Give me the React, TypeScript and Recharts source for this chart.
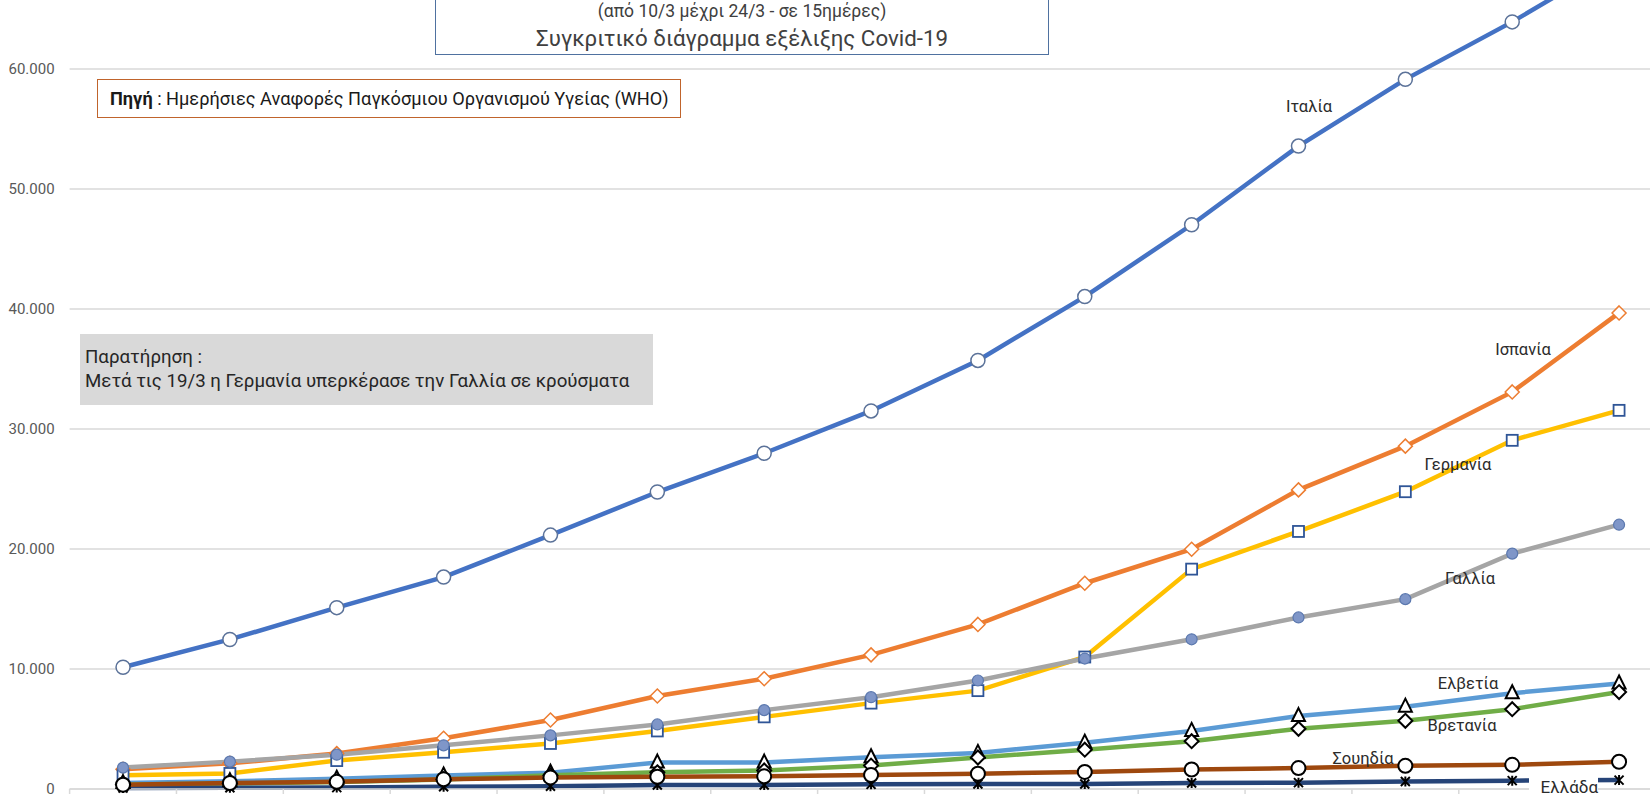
import React from "react";
import { LineChart, Line, XAxis, YAxis, CartesianGrid } from "recharts";

// 15 daily WHO reports, 10/3 .. 24/3
const days = [
  "10/3", "11/3", "12/3", "13/3", "14/3", "15/3", "16/3", "17/3",
  "18/3", "19/3", "20/3", "21/3", "22/3", "23/3", "24/3",
];

const italy = [10149, 12462, 15113, 17660, 21157, 24747, 27980, 31506, 35713, 41035, 47021, 53578, 59138, 63927, 69176];
const spain = [1639, 2140, 2950, 4231, 5753, 7753, 9191, 11178, 13716, 17147, 19980, 24926, 28572, 33089, 39673];
const germany = [1139, 1296, 2369, 3062, 3795, 4838, 6012, 7156, 8198, 10999, 18323, 21463, 24774, 29056, 31554];
const france = [1784, 2281, 2860, 3640, 4469, 5380, 6573, 7652, 9043, 10871, 12475, 14296, 15821, 19615, 22025];
const switzerland = [491, 645, 858, 1125, 1359, 2200, 2200, 2650, 3010, 3863, 4840, 6077, 6863, 7985, 8789];
const uk = [373, 456, 590, 798, 1140, 1391, 1543, 1950, 2626, 3277, 3983, 5018, 5683, 6650, 8077];
const sweden = [355, 500, 599, 814, 961, 1022, 1059, 1167, 1279, 1423, 1623, 1746, 1934, 2016, 2272];
const greece = [89, 99, 117, 190, 228, 331, 331, 387, 418, 418, 495, 530, 624, 695, 743];

const yTicks = [0, 10000, 20000, 30000, 40000, 50000, 60000];
const xTicks = [-0.5, 0.5, 1.5, 2.5, 3.5, 4.5, 5.5, 6.5, 7.5, 8.5, 9.5, 10.5, 11.5, 12.5, 13.5, 14.5];

const rows = days.map((d, i) => ({
  i,
  day: d,
  italy: italy[i],
  spain: spain[i],
  germany: germany[i],
  france: france[i],
  switzerland: switzerland[i],
  uk: uk[i],
  sweden: sweden[i],
  greece: greece[i],
}));

const font = "Roboto, 'Noto Sans', sans-serif";

const fmt = (v: number) => String(v).replace(/\B(?=(\d{3})+(?!\d))/g, ".");

const circleDot = (fill: string, stroke: string, r: number, sw: number) => (p: any) => (
  <circle key={p.index} cx={p.cx} cy={p.cy} r={r} fill={fill} stroke={stroke} strokeWidth={sw} />
);

const diamondDot = (stroke: string, s: number, sw: number) => (p: any) => (
  <path
    key={p.index}
    d={`M${p.cx},${p.cy - s}L${p.cx + s},${p.cy}L${p.cx},${p.cy + s}L${p.cx - s},${p.cy}Z`}
    fill="#fff"
    stroke={stroke}
    strokeWidth={sw}
  />
);

const squareDot = (stroke: string, h: number) => (p: any) => (
  <rect key={p.index} x={p.cx - h} y={p.cy - h} width={h * 2} height={h * 2} fill="#fff" stroke={stroke} strokeWidth={1.8} />
);

const triangleDot = (p: any) => (
  <path
    key={p.index}
    d={`M${p.cx},${p.cy - 8}L${p.cx + 6.5},${p.cy + 5}L${p.cx - 6.5},${p.cy + 5}Z`}
    fill="#fff"
    stroke="#000"
    strokeWidth={2}
  />
);

const starDot = (p: any) => (
  <path
    key={p.index}
    d={`M${p.cx},${p.cy - 5}V${p.cy + 5}M${p.cx - 4.5},${p.cy - 4.5}L${p.cx + 4.5},${p.cy + 4.5}M${p.cx + 4.5},${p.cy - 4.5}L${p.cx - 4.5},${p.cy + 4.5}`}
    stroke="#000"
    strokeWidth={2}
    fill="none"
  />
);

const labelStyle: React.CSSProperties = {
  position: "absolute",
  transform: "translate(-50%, -50%)",
  fontSize: 16.5,
  color: "#2b2b2b",
  whiteSpace: "nowrap",
};

export default function App() {
  return (
    <div
      style={{
        position: "absolute",
        left: 0,
        top: 0,
        width: 1650,
        height: 800,
        overflow: "hidden",
        background: "#fff",
        fontFamily: font,
      }}
    >
      <div style={{ position: "absolute", left: 0, top: -100 }}>
        <LineChart width={1700} height={900} data={rows} margin={{ top: 49, right: 27.5, bottom: 1, left: 0 }}>
          <CartesianGrid vertical={false} stroke="#D9D9D9" strokeWidth={1.5} />
          <XAxis
            dataKey="i"
            type="number"
            domain={[-0.5, 14.5]}
            ticks={xTicks}
            height={10}
            tick={() => <g />}
            tickSize={5}
            axisLine={{ stroke: "#D9D9D9", strokeWidth: 1.5 }}
            tickLine={{ stroke: "#D9D9D9", strokeWidth: 1.5 }}
          />
          <YAxis
            domain={[0, 70000]}
            ticks={yTicks}
            width={69.6}
            axisLine={false}
            tickLine={false}
            tickSize={0}
            tickMargin={15}
            tickFormatter={fmt}
            tick={{ fill: "#595959", fontSize: 15, fontFamily: font }}
          />
          <Line dataKey="italy" stroke="#4472C4" strokeWidth={4.5} isAnimationActive={false} dot={circleDot("#fff", "#5B7299", 7, 1.5)} />
          <Line dataKey="spain" stroke="#ED7D31" strokeWidth={4.5} isAnimationActive={false} dot={diamondDot("#ED7D31", 7, 1.5)} />
          <Line dataKey="germany" stroke="#FFC000" strokeWidth={4.5} isAnimationActive={false} dot={squareDot("#2F5597", 5.5)} />
          <Line dataKey="france" stroke="#A5A5A5" strokeWidth={4.5} isAnimationActive={false} dot={circleDot("#7F96C8", "#5B78AE", 5.5, 1.2)} />
          <Line dataKey="switzerland" stroke="#5B9BD5" strokeWidth={4.5} isAnimationActive={false} dot={triangleDot} />
          <Line dataKey="uk" stroke="#70AD47" strokeWidth={4.5} isAnimationActive={false} dot={diamondDot("#000", 7, 2)} />
          <Line dataKey="greece" stroke="#264478" strokeWidth={4.5} isAnimationActive={false} dot={starDot} />
          <Line dataKey="sweden" stroke="#9E480E" strokeWidth={4.5} isAnimationActive={false} dot={circleDot("#fff", "#000", 7, 2)} />
        </LineChart>
      </div>

      {/* title box, cut off at the top */}
      <div
        style={{
          position: "absolute",
          left: 435,
          top: -30,
          width: 612,
          height: 83,
          border: "1.5px solid #4F71A0",
          background: "#fff",
          color: "#404040",
          textAlign: "center",
        }}
      >
        <div style={{ position: "absolute", left: 0, right: 0, top: 29, fontSize: 17.5, lineHeight: "22px" }}>
          (από 10/3 μέχρι 24/3 - σε 15ημέρες)
        </div>
        <div style={{ position: "absolute", left: 0, right: 0, top: 53, fontSize: 22.3, lineHeight: "28px" }}>
          Συγκριτικό διάγραμμα εξέλιξης Covid-19
        </div>
      </div>

      {/* source box */}
      <div
        style={{
          position: "absolute",
          left: 97,
          top: 79,
          width: 570,
          height: 37,
          border: "1.5px solid #C0642C",
          background: "#fff",
          paddingLeft: 12,
          fontSize: 18.2,
          lineHeight: "37px",
          color: "#1a1a1a",
          whiteSpace: "nowrap",
        }}
      >
        <b>Πηγή</b> : Ημερήσιες Αναφορές Παγκόσμιου Οργανισμού Υγείας (WHO)
      </div>

      {/* observation box */}
      <div
        style={{
          position: "absolute",
          left: 80,
          top: 334,
          width: 573,
          height: 71,
          background: "#D9D9D9",
          fontSize: 18.7,
          color: "#262626",
          whiteSpace: "nowrap",
        }}
      >
        <div style={{ position: "absolute", left: 5, top: 11, lineHeight: "24px" }}>Παρατήρηση :</div>
        <div style={{ position: "absolute", left: 5, top: 35, lineHeight: "24px" }}>
          Μετά τις 19/3 η Γερμανία υπερκέρασε την Γαλλία σε κρούσματα
        </div>
      </div>

      <div style={{ ...labelStyle, left: 1309, top: 106 }}>Ιταλία</div>
      <div style={{ ...labelStyle, left: 1523, top: 349 }}>Ισπανία</div>
      <div style={{ ...labelStyle, left: 1458, top: 464 }}>Γερμανία</div>
      <div style={{ ...labelStyle, left: 1470, top: 578 }}>Γαλλία</div>
      <div style={{ ...labelStyle, left: 1468, top: 683 }}>Ελβετία</div>
      <div style={{ ...labelStyle, left: 1462, top: 725 }}>Βρετανία</div>
      <div style={{ ...labelStyle, left: 1363, top: 758 }}>Σουηδία</div>
      <div
        style={{
          position: "absolute",
          left: 1529,
          top: 776,
          width: 69,
          height: 22,
          background: "#fff",
          fontSize: 17,
          lineHeight: "22px",
          color: "#2b2b2b",
          textAlign: "right",
          whiteSpace: "nowrap",
        }}
      >
        Ελλάδα
      </div>
    </div>
  );
}
